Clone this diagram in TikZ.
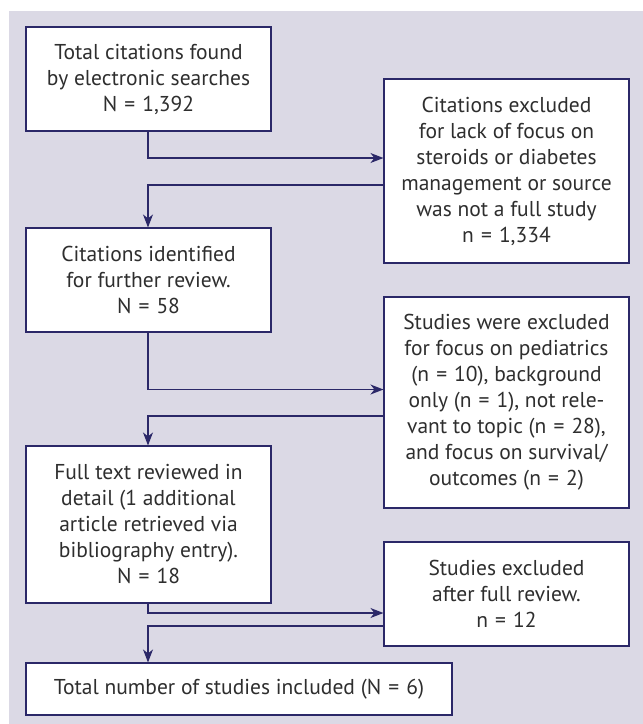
\documentclass[tikz,border=0pt]{standalone}
\usepackage{fontspec}
\setmainfont{PT Sans}
\usetikzlibrary{arrows.meta}
\definecolor{bgc}{HTML}{DBD9E5}
\definecolor{navy}{HTML}{2B2868}
\definecolor{txt}{HTML}{2E2E2E}
\newcommand{\eqs}{\hspace{0.33em}=\hspace{0.33em}}
\tikzset{
  box/.style={draw=navy, line width=1.1pt, fill=white, text=txt, align=center,
    inner sep=0pt, font=\fontsize{21.5}{26}\selectfont},
  arr/.style={draw=navy, line width=1.4pt, -{Stealth[length=13pt,width=10pt,inset=4pt]}}
}
\begin{document}
\begin{tikzpicture}[x=1pt,y=-1pt]
\useasboundingbox (0,0) rectangle (643,724);
\fill[bgc] (9,11) rectangle (643,724);
\node[box, minimum width=245pt, minimum height=104pt] (b1) at (148.5,79)
  {Total citations found\\by electronic searches\\N\eqs 1,392};
\node[box, minimum width=245pt, minimum height=184pt] (b2) at (506.5,171)
  {Citations excluded\\for lack of focus on\\steroids or diabetes\\management or source\\was not a full study\\n\eqs 1,334};
\node[box, minimum width=245pt, minimum height=104pt] (b3) at (148.5,280)
  {Citations identified\\for further review.\\N\eqs 58};
\node[box, minimum width=245pt, minimum height=211pt] (b4) at (506.5,402.5)
  {Studies were excluded\\for focus on pediatrics\\(n\eqs 10), background\\only (n\eqs 1), not rele-\\vant to topic (n\eqs 28),\\and focus on survival/\\outcomes (n\eqs 2)};
\node[box, minimum width=245pt, minimum height=157pt] (b5) at (148.5,524.5)
  {Full text reviewed in\\detail (1 additional\\article retrieved via\\bibliography entry).\\N\eqs 18};
\node[box, minimum width=245pt, minimum height=104pt] (b6) at (506.5,594)
  {Studies excluded\\after full review.\\n\eqs 12};
\node[box, minimum width=426pt, minimum height=52pt] (b7) at (239,689)
  {Total number of studies included (N\eqs 6)};
\coordinate (ax) at (148,0);
\draw[arr] (b1.south -| ax) -- (ax |- 0,158) -- (b2.west |- 0,158);
\draw[arr] (b2.west |- 0,185) -- (ax |- 0,185) -- (b3.north -| ax);
\draw[arr] (b3.south -| ax) -- (ax |- 0,389.5) -- (b4.west |- 0,389.5);
\draw[arr] (b4.west |- 0,416) -- (ax |- 0,416) -- (b5.north -| ax);
\draw[arr] (b5.south -| ax) -- (ax |- 0,613) -- (b6.west |- 0,613);
\draw[arr] (b6.west |- 0,626) -- (ax |- 0,626) -- (b7.north -| ax);
\end{tikzpicture}
\end{document}
